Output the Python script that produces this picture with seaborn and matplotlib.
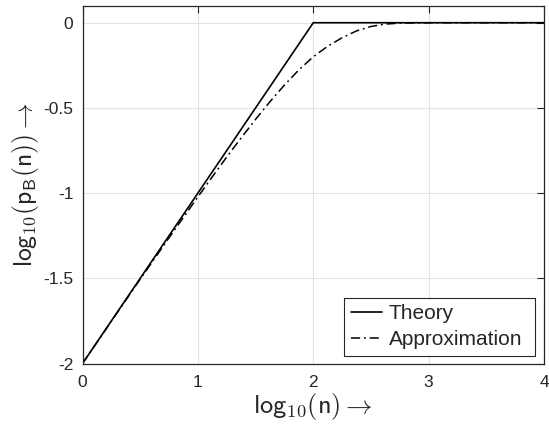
import matplotlib
matplotlib.use("Agg")
import matplotlib.pyplot as plt
import seaborn as sns
import pandas as pd

# Data
theory_x = [0.0, 2.0, 4.0]
theory_y = [-2.0, 0.0, 0.0]

approx_x = [0.0, 0.25, 0.5, 0.75, 1.0, 1.125, 1.25, 1.375, 1.5, 1.625, 1.75,
            1.875, 2.0, 2.125, 2.25, 2.375, 2.5, 2.625, 2.75, 3.0, 3.5, 4.0]
approx_y = [-2.0, -1.752, -1.505, -1.262, -1.022, -0.904, -0.788, -0.676,
            -0.567, -0.463, -0.366, -0.277, -0.200, -0.138, -0.088, -0.048,
            -0.022, -0.008, -0.002, 0.0, 0.0, 0.0]

xticks = [0, 1, 2, 3, 4]
yticks = [-2, -1.5, -1, -0.5, 0]
ytick_labels = ["-2", "-1.5", "-1", "-0.5", "0"]

sns.set_style("white")
plt.rcParams["font.family"] = ["Liberation Sans", "DejaVu Sans"]
plt.rcParams["mathtext.fontset"] = "cm"

fig = plt.figure(figsize=(5.49, 4.25), dpi=100)
ax = fig.add_axes([0.1503, 0.1447, 0.8406, 0.8419])

df_t = pd.DataFrame({"x": theory_x, "y": theory_y})
df_a = pd.DataFrame({"x": approx_x, "y": approx_y})
sns.lineplot(data=df_t, x="x", y="y", ax=ax, color="black", lw=1.2,
             label="Theory", sort=False)
sns.lineplot(data=df_a, x="x", y="y", ax=ax, color="black", lw=1.1,
             linestyle=(0, (6, 2.5, 1.2, 2.5)), label="Approximation", sort=False)

ax.set_xlim(0, 4)
ax.set_ylim(-2, 0.1)
ax.set_xticks(xticks)
ax.set_xticklabels([str(t) for t in xticks])
ax.set_yticks(yticks)
ax.set_yticklabels(ytick_labels)
ax.grid(True, color="#e3e3e3", lw=0.8)
ax.set_axisbelow(True)
for s in ax.spines.values():
    s.set_color("#262626")
    s.set_linewidth(0.9)
ax.tick_params(direction="in", length=5, width=0.8, color="#262626",
               top=True, right=True, labelsize=12.5, labelcolor="#262626")
ax.tick_params(axis="x", pad=8)
ax.tick_params(axis="y", pad=6.5)

ax.set_xlabel(r"$\mathsf{log}_{10}(\mathsf{n})\rightarrow$", fontsize=19, labelpad=1)
ax.set_ylabel(r"$\mathsf{log}_{10}(\mathsf{p}_\mathsf{B}(\mathsf{n}))\rightarrow$",
              fontsize=18.5, labelpad=2)

leg = ax.legend(loc="lower left",
                bbox_to_anchor=(344 / 549, 1 - 356 / 425, 191 / 549, 57.7 / 425),
                bbox_transform=fig.transFigure, mode="expand", borderaxespad=0,
                fontsize=15, frameon=True, fancybox=False,
                edgecolor="#262626", framealpha=1, handlelength=1.5,
                handletextpad=0.32, borderpad=0.32, labelspacing=0.33)
leg.get_frame().set_linewidth(0.8)

fig.savefig("out.png", dpi=100)
